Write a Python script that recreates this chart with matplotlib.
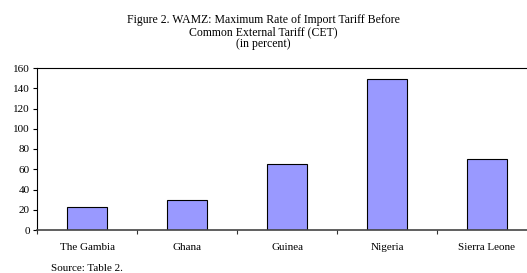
import numpy as np
import matplotlib
matplotlib.use('Agg')
import matplotlib.pyplot as plt

# data
countries = ['The Gambia', 'Ghana', 'Guinea', 'Nigeria', 'Sierra Leone']
max_tariff = [23, 30, 65, 149, 70]
yticks = [0, 20, 40, 60, 80, 100, 120, 140, 160]

plt.rcParams['font.family'] = ['Liberation Serif', 'DejaVu Serif']

W, H = 527, 273
fig = plt.figure(figsize=(W / 100, H / 100), dpi=100)
# plot area: x 37..537 px (right edge is cut off in the original), y 68..230 px
ax = fig.add_axes([37 / W, (H - 230) / H, 500 / W, 162 / H])

x = np.arange(len(countries))
ax.bar(x, max_tariff, width=0.4, color='#9999ff', edgecolor='black', linewidth=0.8, zorder=2)

ax.set_xlim(-0.5, len(countries) - 0.5)
ax.set_ylim(0, 160)
ax.set_yticks(yticks)
ax.set_yticklabels([str(v) for v in yticks], fontsize=8)
ax.set_xticks(x)
ax.set_xticklabels(countries, fontsize=8)
ax.tick_params(axis='x', length=0, pad=9)
ax.tick_params(axis='y', length=3, width=0.8, pad=2)
# category separator ticks on the x axis
ax.set_xticks(np.arange(len(countries) + 1) - 0.5, minor=True)
ax.tick_params(axis='x', which='minor', length=3, width=0.8, color='#333333')

for s in ['left', 'top', 'right']:
    ax.spines[s].set_linewidth(0.8)
    ax.spines[s].set_color('black')
ax.spines['bottom'].set_linewidth(1.2)
ax.spines['bottom'].set_color('#444444')

title_lines = ['Figure 2. WAMZ: Maximum Rate of Import Tariff Before',
               'Common External Tariff (CET)',
               '(in percent)']
for line, base in zip(title_lines, [23, 35.5, 47]):
    fig.text(0.5, 1 - base / H, line, ha='center', va='baseline', fontsize=8.5)
fig.text(51 / W, 1 - 271 / H, 'Source: Table 2.', ha='left', va='baseline', fontsize=8)

fig.savefig('out.png', dpi=100)
